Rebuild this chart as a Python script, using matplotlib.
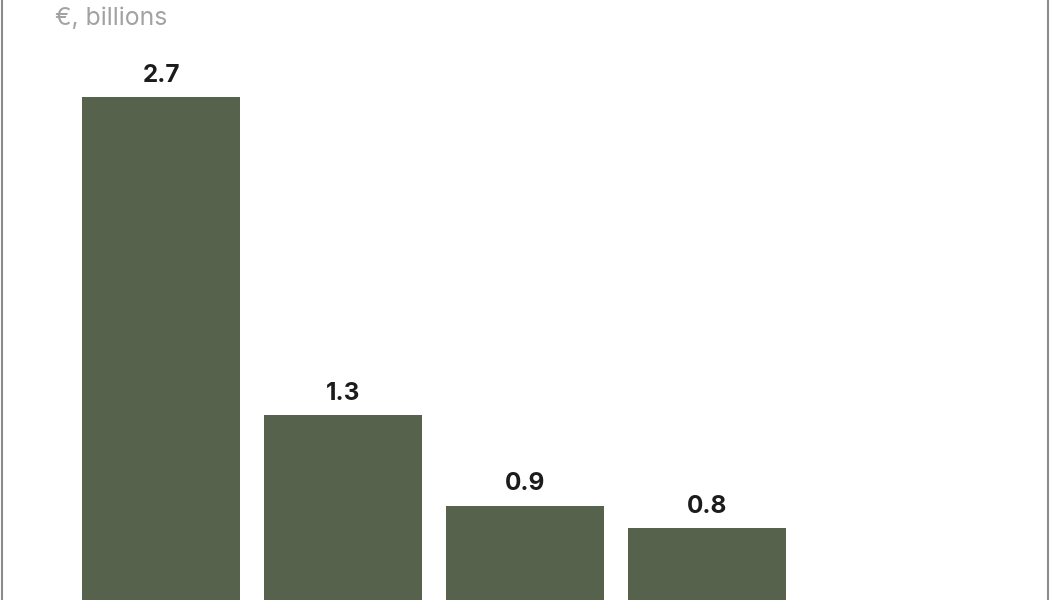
import matplotlib
matplotlib.use("Agg")
import matplotlib.pyplot as plt
from matplotlib.lines import Line2D

categories = ["A", "B", "C", "D"]
values = [2.7, 1.3, 0.9, 0.8]
labels = ["2.7", "1.3", "0.9", "0.8"]

bar_color = "#56624b"

fig = plt.figure(figsize=(10.5, 6), dpi=100)
ax = fig.add_axes([0, 0, 1, 1])

x = list(range(len(categories)))
bars = ax.bar(x, values, width=0.868, color=bar_color)

for b, lab in zip(bars, labels):
    ax.annotate(lab, (b.get_x() + b.get_width() / 2, b.get_height()),
                xytext=(0, 7.5), textcoords="offset points",
                ha="center", va="bottom", fontsize=17.5, fontweight="bold",
                family="Inter", color="#1c1c1c")

ax.set_xlim(-0.885, 4.885)
ax.set_ylim(0.4846, 3.128)
ax.axis("off")

fig.text(55 / 1050, 1 - 25 / 600, "€, billions", fontsize=17.8, color="#a2a2a2",
         family="Inter", ha="left", va="baseline")

# thin frame lines on the left and right edge
fig.add_artist(Line2D([2 / 1050, 2 / 1050], [0, 1], color="#8c8c8c", lw=1.5))
fig.add_artist(Line2D([1048 / 1050, 1048 / 1050], [0, 1], color="#8c8c8c", lw=1.5))

fig.savefig("out.png", dpi=100, facecolor="white")
